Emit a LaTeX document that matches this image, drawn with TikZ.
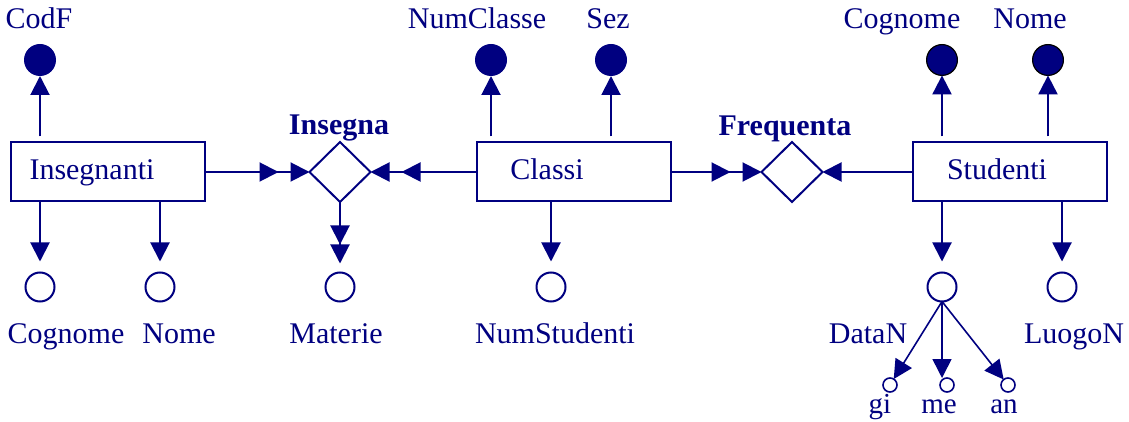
\documentclass[tikz,border=0pt]{standalone}
\usepackage{fontspec}
\setmainfont{Liberation Serif}
\usetikzlibrary{arrows.meta,shapes.geometric}
\definecolor{nv}{RGB}{0,0,128}
\begin{document}
\begin{tikzpicture}[x=0.5pt,y=-0.5pt,line width=1pt,nv,
  every node/.style={inner sep=0pt,outer sep=0pt},
  ent/.style={draw,rectangle,minimum width=97pt,minimum height=29.5pt},
  rel/.style={draw,diamond,minimum width=30.5pt,minimum height=30pt},
  key/.style={circle,fill=nv,minimum size=16pt},
  keyb/.style={key,draw=black,line width=0.6pt,minimum size=15.4pt},
  att/.style={circle,draw,minimum size=14.5pt},
  sat/.style={circle,draw,minimum size=7pt,line width=0.8pt},
  lbl/.style={font=\fontsize{15}{18}\selectfont,anchor=base},
  blbl/.style={font=\fontsize{15}{18}\selectfont\bfseries,anchor=base},
  slbl/.style={font=\fontsize{14.5}{17}\selectfont,anchor=base},
  arr/.style={-{Triangle[length=9.5pt,width=9.5pt]}},
  darr/.style={-{Triangle[length=9.5pt,width=9.5pt,sep=6pt]Triangle[length=9.5pt,width=9.5pt]}},
  darrz/.style={-{Triangle[length=9.5pt,width=9.5pt]Triangle[length=9.5pt,width=9.5pt]}},
  up/.style={arr,shorten <=3pt},
  down/.style={arr,shorten >=5.5pt}]
\useasboundingbox (0,0) rectangle (1129,422);
% entities
\node[ent] (ins) at (107.5,172) {};
\node[lbl] (insT) at (92,180) {Insegnanti};
\node[ent] (cla) at (573.5,172) {};
\node[lbl] (claT) at (547,180) {Classi};
\node[ent] (stu) at (1010,172) {};
\node[lbl] (stuT) at (997,180) {Studenti};
% relationships
\node[rel] (insg) at (340,172) {};
\node[blbl] (insgL) at (339,135) {Insegna};
\node[rel] (freq) at (792,172) {};
\node[blbl] (freqL) at (785,136) {Frequenta};
% key attributes
\node[key] (cf) at (40,60) {};
\node[lbl] (cfL) at (39,29) {CodF};
\node[key] (nc) at (491,60) {};
\node[lbl] (ncL) at (477,29) {NumClasse};
\node[key] (sez) at (611,60) {};
\node[lbl] (sezL) at (608,29) {Sez};
\node[keyb] (scg) at (942,60) {};
\node[lbl] (scgL) at (902,29) {Cognome};
\node[keyb] (snm) at (1048,60) {};
\node[lbl] (snmL) at (1030,29) {Nome};
% attributes
\node[att] (icg) at (40,287) {};
\node[lbl] (icgL) at (66,343) {Cognome};
\node[att] (inm) at (160,287) {};
\node[lbl] (inmL) at (179,343) {Nome};
\node[att] (mat) at (340,287) {};
\node[lbl] (matL) at (336,343) {Materie};
\node[att] (nst) at (551,287) {};
\node[lbl] (nstL) at (555,343) {NumStudenti};
\node[att] (dn) at (942,287) {};
\node[lbl] (dnL) at (868,343) {DataN};
\node[att] (lg) at (1062,287) {};
\node[lbl] (lgL) at (1074,343) {LuogoN};
\node[sat] (gi) at (890,385) {};
\node[slbl] (giL) at (880,413) {gi};
\node[sat] (me) at (947,385) {};
\node[slbl] (meL) at (939,413) {me};
\node[sat] (an) at (1008,385) {};
\node[slbl] (anL) at (1004,413) {an};
% connectors
\draw[up] (cf |- ins.north) -- (cf);
\draw[down] (icg |- ins.south) -- (icg);
\draw[down] (inm |- ins.south) -- (inm);
\draw[darr] (ins) -- (insg);
\draw[darr] (cla) -- (insg);
\draw[darrz,shorten >=4.5pt] (insg) -- (mat);
\draw[up] (nc |- cla.north) -- (nc);
\draw[up] (sez |- cla.north) -- (sez);
\draw[down] (nst |- cla.south) -- (nst);
\draw[darr] (cla) -- (freq);
\draw[arr] (stu) -- (freq);
\draw[up] (scg |- stu.north) -- (scg);
\draw[up] (snm |- stu.north) -- (snm);
\draw[down] (dn |- stu.south) -- (dn);
\draw[down] (lg |- stu.south) -- (lg);
\draw[arr,line width=0.8pt] (dn.south) -- (gi);
\draw[arr,line width=0.8pt] (dn.south) -- (dn.south |- me.north);
\draw[arr,line width=0.8pt] (dn.south) -- (an);
\end{tikzpicture}
\end{document}
